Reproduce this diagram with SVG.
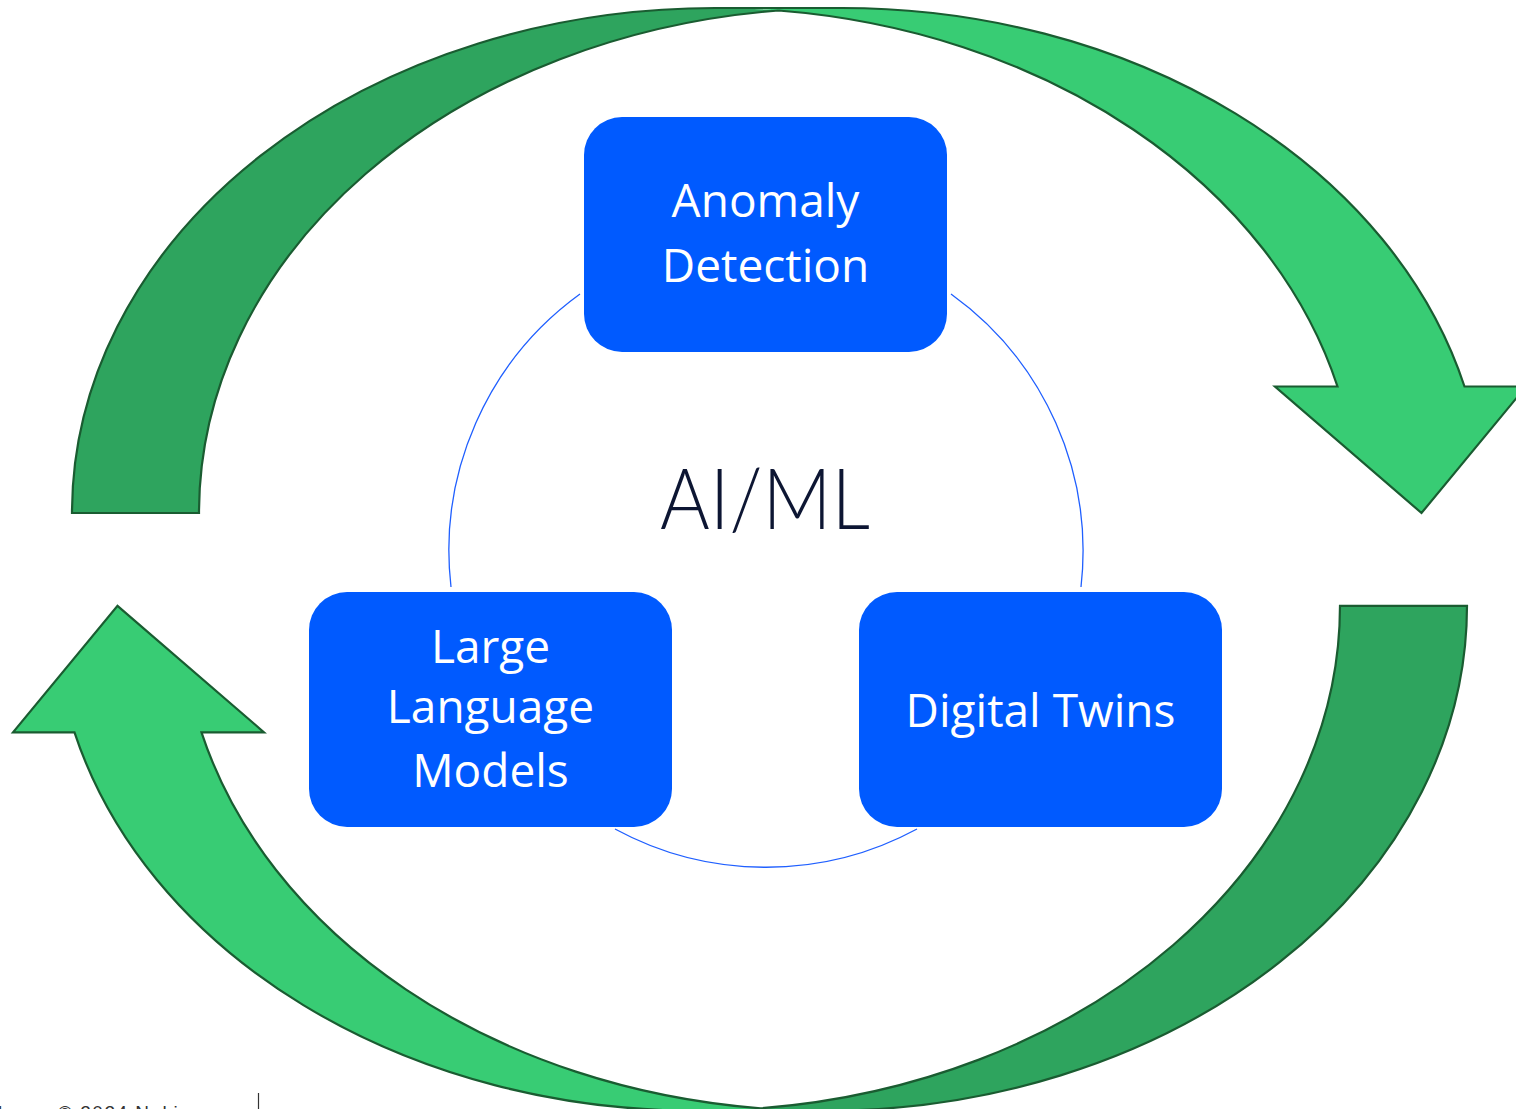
<svg xmlns="http://www.w3.org/2000/svg" width="1516" height="1109" viewBox="0 0 1516 1109">
<defs>
<style>
.light{fill:#38CC74;stroke:none}
.dark{fill:#2EA45E;stroke:none}
.edge{fill:none;stroke:#1A5C31;stroke-width:2.2;stroke-linejoin:miter}
.box{fill:#005AFF}
.lbl{fill:#FFFFFF;font-family:"Open Sans","Noto Sans",sans-serif;font-size:46px;text-anchor:middle}
.ring{fill:none;stroke:#1F5FFF;stroke-width:1.3}
.foot{font-family:"Liberation Sans",Arial,sans-serif;font-size:19px;fill:#333333}
</style>
<g id="arrowShape">
<path class="light" d="M1337.5,386.5 A643,505 0 0 0 715,8 L842,8 A643,505 0 0 1 1464.5,386.5 L1526,386.5 L1421.5,513 L1275,386.5 Z"/>
<path class="dark" d="M778.5,10.5 A643,505 0 0 0 199,513 L72,513 A643,505 0 0 1 778.5,10.5 Z"/>
<path class="edge" d="M778.5,10.5 A643,505 0 0 0 199,513 L72,513 A643,505 0 0 1 715,8 L842,8 A643,505 0 0 1 1464.5,386.5 L1526,386.5 L1421.5,513 L1275,386.5 L1337.5,386.5 A643,505 0 0 0 778.5,10.5"/>
</g>
</defs>
<rect width="1516" height="1109" fill="#FFFFFF"/>
<g id="arrow-top"><use href="#arrowShape"/></g>
<g id="arrow-bottom"><use href="#arrowShape" transform="rotate(180 769.5 559.4)"/></g>
<g id="connectors">
<path class="ring" d="M580,294 A317,317 0 0 0 451,587"/>
<path class="ring" d="M615,829 A317,317 0 0 0 917,829"/>
<path class="ring" d="M1081,587 A317,317 0 0 0 951,294"/>
</g>
<g id="center-label">
<text x="765" y="529" font-family="Lato,'Open Sans',sans-serif" font-weight="300" font-size="84" fill="#0D1633" text-anchor="middle" textLength="210" lengthAdjust="spacingAndGlyphs">AI/ML</text>
</g>
<g id="node-anomaly">
<rect class="box" x="584" y="117" width="363" height="235" rx="38"/>
<text class="lbl" x="765.5" y="217">Anomaly</text>
<text class="lbl" x="765.5" y="282">Detection</text>
</g>
<g id="node-llm">
<rect class="box" x="309" y="592" width="363" height="235" rx="38"/>
<text class="lbl" x="490.5" y="663">Large</text>
<text class="lbl" x="490.5" y="723">Language</text>
<text class="lbl" x="490.5" y="787">Models</text>
</g>
<g id="node-twins">
<rect class="box" x="859" y="592" width="363" height="235" rx="38"/>
<text class="lbl" x="1040.5" y="727">Digital Twins</text>
</g>
<g id="footer">
<text class="foot" x="5" y="1119" text-anchor="end">1</text>
<text class="foot" x="58" y="1119" letter-spacing="1.5">© 2024 Nokia</text>
<line x1="258.5" y1="1093" x2="258.5" y2="1109" stroke="#333333" stroke-width="1.2"/>
</g>
</svg>
